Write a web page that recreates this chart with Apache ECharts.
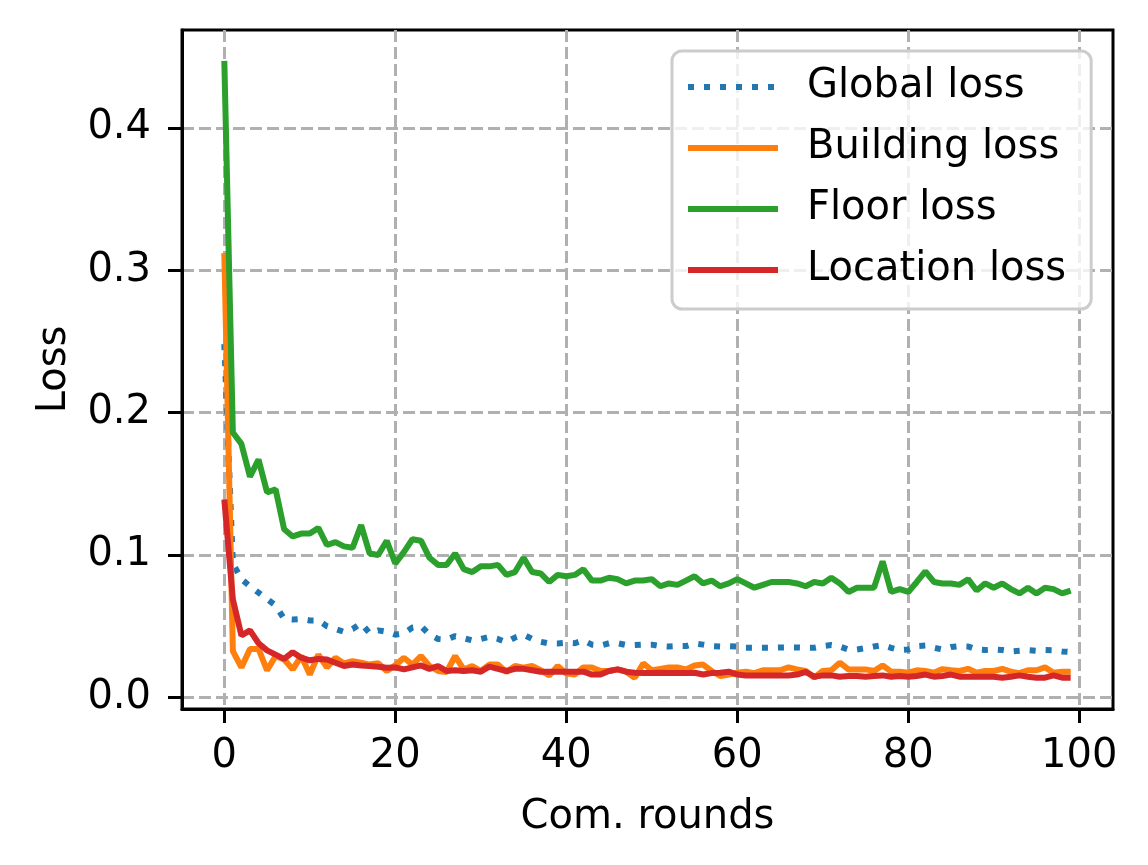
<!DOCTYPE html>
<html>
<head>
<meta charset="utf-8">
<script src="https://cdn.jsdelivr.net/npm/echarts@6/dist/echarts.min.js"></script>
<style>
  html, body { margin: 0; padding: 0; background: #fff; }
  #chart { width: 1148px; height: 865px; }
</style>
</head>
<body>
<div id="chart"></div>
<script>
// loss per communication round
const rounds = Array.from({ length: 100 }, (_, i) => i)

const globalLoss = [
  0.248, 0.094, 0.083, 0.078, 0.0735, 0.069, 0.0645, 0.055, 0.0546, 0.055,
  0.054, 0.054, 0.050, 0.048, 0.046, 0.048, 0.052, 0.045, 0.047, 0.046,
  0.044, 0.045, 0.049, 0.050, 0.044, 0.041, 0.0406, 0.043, 0.0415, 0.040,
  0.041, 0.0425, 0.041, 0.0387, 0.042, 0.044, 0.041, 0.039, 0.0378, 0.0378,
  0.0383, 0.038, 0.040, 0.037, 0.0364, 0.038, 0.038, 0.0367, 0.0367, 0.037,
  0.037, 0.036, 0.0357, 0.036, 0.036, 0.0378, 0.037, 0.036, 0.0357, 0.036,
  0.0357, 0.0348, 0.0348, 0.0348, 0.0348, 0.035, 0.035, 0.035, 0.0348, 0.0348,
  0.036, 0.0367, 0.0357, 0.0336, 0.0336, 0.0345, 0.0357, 0.0367, 0.0348, 0.0332,
  0.0336, 0.036, 0.0364, 0.0348, 0.0336, 0.0353, 0.036, 0.0357, 0.0336, 0.0332,
  0.0336, 0.0332, 0.0322, 0.0327, 0.0332, 0.0327, 0.0332, 0.033, 0.0322, 0.0318
]
const buildingLoss = [
  0.312, 0.0325, 0.021, 0.034, 0.034, 0.019, 0.029, 0.0266, 0.0196, 0.029,
  0.016, 0.030, 0.021, 0.0278, 0.0238, 0.0254, 0.0243, 0.023, 0.024, 0.0185,
  0.0225, 0.0278, 0.023, 0.029, 0.022, 0.0185, 0.0178, 0.029, 0.0196, 0.022,
  0.0185, 0.023, 0.023, 0.0178, 0.022, 0.0208, 0.022, 0.019, 0.0154, 0.022,
  0.0168, 0.016, 0.021, 0.021, 0.0185, 0.0185, 0.0196, 0.018, 0.0138, 0.0238,
  0.019, 0.020, 0.021, 0.021, 0.0196, 0.0224, 0.023, 0.0185, 0.015, 0.016,
  0.0173, 0.018, 0.017, 0.019, 0.019, 0.019, 0.021, 0.0196, 0.0185, 0.0138,
  0.0185, 0.019, 0.0243, 0.0196, 0.0196, 0.0196, 0.0185, 0.0224, 0.018, 0.018,
  0.0173, 0.019, 0.0185, 0.0173, 0.0198, 0.019, 0.0185, 0.020, 0.0173, 0.0185,
  0.0185, 0.020, 0.018, 0.017, 0.019, 0.019, 0.021, 0.0173, 0.018, 0.018
]
const floorLoss = [
  0.447, 0.186, 0.178, 0.155, 0.167, 0.144, 0.146, 0.118, 0.113, 0.115,
  0.115, 0.119, 0.107, 0.109, 0.106, 0.105, 0.121, 0.101, 0.100, 0.110,
  0.094, 0.102, 0.111, 0.110, 0.098, 0.093, 0.093, 0.101, 0.090, 0.088,
  0.092, 0.092, 0.093, 0.086, 0.088, 0.098, 0.088, 0.087, 0.081, 0.086,
  0.085, 0.086, 0.090, 0.082, 0.082, 0.084, 0.083, 0.080, 0.082, 0.082,
  0.083, 0.078, 0.080, 0.079, 0.082, 0.085, 0.080, 0.082, 0.078, 0.080,
  0.083, 0.080, 0.077, 0.079, 0.081, 0.081, 0.081, 0.080, 0.078, 0.081,
  0.080, 0.084, 0.080, 0.074, 0.077, 0.077, 0.077, 0.0955, 0.074, 0.076,
  0.074, 0.081, 0.0885, 0.081, 0.080, 0.080, 0.079, 0.083, 0.075, 0.080,
  0.077, 0.080, 0.076, 0.073, 0.077, 0.073, 0.077, 0.076, 0.073, 0.075
]
const locationLoss = [
  0.139, 0.0687, 0.0434, 0.047, 0.038, 0.033, 0.030, 0.027, 0.0317, 0.0278,
  0.026, 0.027, 0.0266, 0.0243, 0.022, 0.023, 0.0224, 0.022, 0.0215, 0.0208,
  0.021, 0.0196, 0.021, 0.0224, 0.020, 0.022, 0.0185, 0.019, 0.0185, 0.019,
  0.018, 0.0215, 0.020, 0.0185, 0.020, 0.020, 0.019, 0.018, 0.018, 0.018,
  0.018, 0.018, 0.018, 0.016, 0.016, 0.0185, 0.0196, 0.018, 0.0173, 0.017,
  0.017, 0.0173, 0.017, 0.017, 0.017, 0.0173, 0.016, 0.017, 0.0173, 0.018,
  0.016, 0.0154, 0.0154, 0.0154, 0.0154, 0.0154, 0.0154, 0.016, 0.0178, 0.0145,
  0.0154, 0.0154, 0.0145, 0.015, 0.015, 0.0145, 0.015, 0.0154, 0.0145, 0.015,
  0.0145, 0.015, 0.016, 0.0145, 0.015, 0.016, 0.0145, 0.0145, 0.0145, 0.0145,
  0.0145, 0.0138, 0.0145, 0.0154, 0.0145, 0.0138, 0.0138, 0.0154, 0.0138, 0.0138
]

const xTicks = [0, 20, 40, 60, 80, 100]
const yTicks = [0, 0.1, 0.2, 0.3, 0.4]

const font = 'DejaVu Sans'
const gridDash = { type: [12, 5], color: '#b0b0b0', width: 3 }

function makeSeries (name, values, color, dotted) {
  return {
    name: name,
    type: 'line',
    symbol: 'none',
    data: rounds.map((r, i) => [r, values[i]]),
    lineStyle: {
      color: color,
      width: 6,
      type: dotted ? [6, 10] : 'solid',
      cap: 'butt'
    },
    itemStyle: { color: color },
    z: 3
  }
}

const chart = echarts.init(document.getElementById('chart'))
chart.setOption({
  animation: false,
  backgroundColor: '#fff',
  grid: {
    left: 182,
    right: 35,
    top: 30,
    bottom: 156,
    show: true,
    borderColor: '#000',
    borderWidth: 3
  },
  xAxis: {
    type: 'value',
    min: -4.95,
    max: 103.95,
    name: 'Com. rounds',
    nameLocation: 'middle',
    nameGap: 89,
    nameTextStyle: { fontFamily: font, fontSize: 40, color: '#000' },
    axisLine: { show: true, onZero: false, lineStyle: { color: '#000', width: 3 } },
    axisTick: { show: true, length: 14, lineStyle: { color: '#000', width: 3 }, customValues: xTicks },
    axisLabel: { fontFamily: font, fontSize: 40, color: '#000', margin: 28, customValues: xTicks },
    splitLine: { show: true, lineStyle: gridDash }
  },
  yAxis: {
    type: 'value',
    min: -0.0082,
    max: 0.4687,
    name: 'Loss',
    nameLocation: 'middle',
    nameGap: 107,
    nameTextStyle: { fontFamily: font, fontSize: 40, color: '#000' },
    axisLine: { show: true, onZero: false, lineStyle: { color: '#000', width: 3 } },
    axisTick: { show: true, length: 14, lineStyle: { color: '#000', width: 3 }, customValues: yTicks },
    axisLabel: {
      fontFamily: font,
      fontSize: 40,
      color: '#000',
      margin: 31,
      customValues: yTicks,
      formatter: v => v.toFixed(1)
    },
    splitLine: { show: true, lineStyle: gridDash }
  },
  legend: {
    orient: 'vertical',
    left: 672,
    top: 51,
    itemWidth: 90,
    itemHeight: 14,
    itemGap: 21,
    padding: [16, 25, 19, 13],
    backgroundColor: 'rgba(255,255,255,0.8)',
    borderColor: '#cccccc',
    borderWidth: 3,
    borderRadius: 10,
    itemStyle: { opacity: 0 },
    lineStyle: { width: 6 },
    textStyle: {
      fontFamily: font,
      fontSize: 40,
      lineHeight: 40,
      color: '#000',
      padding: [0, 0, 0, 24]
    },
    z: 10
  },
  series: [
    makeSeries('Global loss', globalLoss, '#1f77b4', true),
    makeSeries('Building loss', buildingLoss, '#ff7f0e', false),
    makeSeries('Floor loss', floorLoss, '#2ca02c', false),
    makeSeries('Location loss', locationLoss, '#d62728', false)
  ]
})
</script>
</body>
</html>
